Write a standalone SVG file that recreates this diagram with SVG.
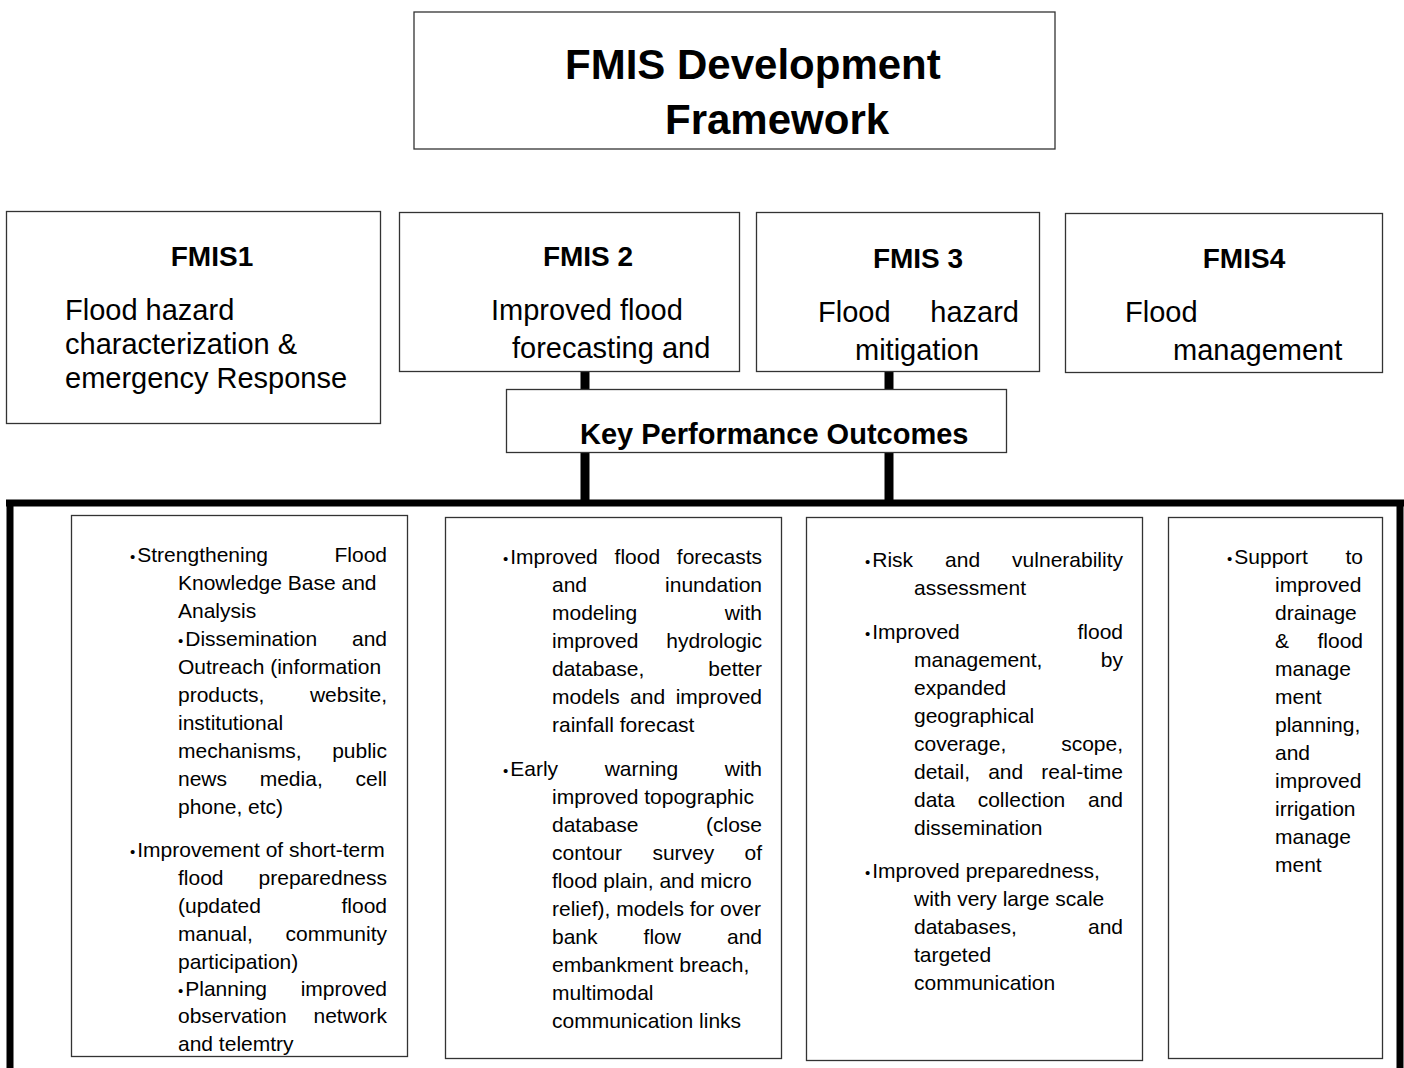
<svg xmlns="http://www.w3.org/2000/svg" width="1404" height="1068" viewBox="0 0 1404 1068">
<style>
.box{fill:#fff;stroke:#333;stroke-width:1.3}
.con{stroke:#000;fill:none}
text{font-family:"Liberation Sans",Arial,sans-serif;fill:#000}
.title{font-size:42px;font-weight:bold}
.hd{font-size:28px;font-weight:bold;text-anchor:middle}
.kpo{font-size:29px;font-weight:bold}
.sub{font-size:29px}
.b{font-size:21px}
.e{text-anchor:end}
.bl{font-size:15px}
</style>
<rect width="1404" height="1068" fill="#fff"/>
<g id="connectors">
<line class="con" x1="585" y1="371" x2="585" y2="390" stroke-width="9"/>
<line class="con" x1="585" y1="452" x2="585" y2="503" stroke-width="9"/>
<line class="con" x1="889" y1="371" x2="889" y2="390" stroke-width="9"/>
<line class="con" x1="889" y1="452" x2="889" y2="503" stroke-width="9"/>
<line class="con" x1="6" y1="503" x2="1404" y2="503" stroke-width="7"/>
<line class="con" x1="10" y1="500" x2="10" y2="1068" stroke-width="7"/>
<line class="con" x1="1400" y1="500" x2="1400" y2="1068" stroke-width="7"/>
</g>
<g id="title">
<rect class="box" x="414" y="12" width="641" height="137"/>
<text class="title" x="565" y="79">FMIS Development</text>
<text class="title" x="665" y="134">Framework</text>
</g>
<g id="fmis1">
<rect class="box" x="6.5" y="211.5" width="374" height="212"/>
<text class="hd" x="212" y="266">FMIS1</text>
<text class="sub" x="65" y="320">Flood hazard</text>
<text class="sub" x="65" y="354">characterization &amp;</text>
<text class="sub" x="65" y="388">emergency Response</text>
</g>
<g id="fmis2">
<rect class="box" x="399.5" y="212.5" width="340" height="159"/>
<text class="hd" x="588" y="266">FMIS 2</text>
<text class="sub" x="491" y="320">Improved flood</text>
<text class="sub" x="512" y="358">forecasting and</text>
</g>
<g id="fmis3">
<rect class="box" x="756.5" y="212.5" width="283" height="159"/>
<text class="hd" x="918" y="268">FMIS 3</text>
<text class="sub" x="818" y="322">Flood</text>
<text class="sub e" x="1019" y="322">hazard</text>
<text class="sub" x="855" y="360">mitigation</text>
</g>
<g id="fmis4">
<rect class="box" x="1065.5" y="213.5" width="317" height="159"/>
<text class="hd" x="1244" y="268">FMIS4</text>
<text class="sub" x="1125" y="322">Flood</text>
<text class="sub" x="1173" y="360">management</text>
</g>
<g id="kpo">
<rect class="box" x="506.5" y="389.5" width="500" height="63"/>
<text class="kpo" x="580" y="444">Key Performance Outcomes</text>
</g>
<g id="outcome1">
<rect class="box" x="71.5" y="515.5" width="336" height="541"/>
<text class="b" x="130" y="562"><tspan class="bl">•</tspan><tspan dx="2">Strengthening</tspan></text><text class="b e" x="387" y="562">Flood</text>
<text class="b" x="178" y="590">Knowledge Base and</text>
<text class="b" x="178" y="618">Analysis</text>
<text class="b" x="178" y="646"><tspan class="bl">•</tspan><tspan dx="2">Dissemination</tspan></text><text class="b e" x="387" y="646">and</text>
<text class="b" x="178" y="674">Outreach (information</text>
<text class="b" x="178" y="702">products,</text><text class="b e" x="387" y="702">website,</text>
<text class="b" x="178" y="730">institutional</text>
<text class="b" x="178" y="758">mechanisms,</text><text class="b e" x="387" y="758">public</text>
<text class="b" x="178" y="786">news</text><text class="b" x="259.7" y="786">media,</text><text class="b e" x="387" y="786">cell</text>
<text class="b" x="178" y="814">phone, etc)</text>
<text class="b" x="130" y="857"><tspan class="bl">•</tspan><tspan dx="2">Improvement of short-term</tspan></text>
<text class="b" x="178" y="885">flood</text><text class="b e" x="387" y="885">preparedness</text>
<text class="b" x="178" y="913">(updated</text><text class="b e" x="387" y="913">flood</text>
<text class="b" x="178" y="941">manual,</text><text class="b e" x="387" y="941">community</text>
<text class="b" x="178" y="969">participation)</text>
<text class="b" x="178" y="996"><tspan class="bl">•</tspan><tspan dx="2">Planning</tspan></text><text class="b e" x="387" y="996">improved</text>
<text class="b" x="178" y="1023">observation</text><text class="b e" x="387" y="1023">network</text>
<text class="b" x="178" y="1051">and telemtry</text>
</g>
<g id="outcome2">
<rect class="box" x="445.5" y="517.5" width="336" height="541"/>
<text class="b" x="503" y="564"><tspan class="bl">•</tspan><tspan dx="2">Improved</tspan></text><text class="b" x="614.6" y="564">flood</text><text class="b e" x="762" y="564">forecasts</text>
<text class="b" x="552" y="592">and</text><text class="b e" x="762" y="592">inundation</text>
<text class="b" x="552" y="620">modeling</text><text class="b e" x="762" y="620">with</text>
<text class="b" x="552" y="648">improved</text><text class="b e" x="762" y="648">hydrologic</text>
<text class="b" x="552" y="676">database,</text><text class="b e" x="762" y="676">better</text>
<text class="b" x="552" y="704">models</text><text class="b" x="630.1" y="704">and</text><text class="b e" x="762" y="704">improved</text>
<text class="b" x="552" y="732">rainfall forecast</text>
<text class="b" x="503" y="776"><tspan class="bl">•</tspan><tspan dx="2">Early</tspan></text><text class="b" x="604.7" y="776">warning</text><text class="b e" x="762" y="776">with</text>
<text class="b" x="552" y="804">improved topographic</text>
<text class="b" x="552" y="832">database</text><text class="b e" x="762" y="832">(close</text>
<text class="b" x="552" y="860">contour</text><text class="b" x="652.4" y="860">survey</text><text class="b e" x="762" y="860">of</text>
<text class="b" x="552" y="888">flood plain, and micro</text>
<text class="b" x="552" y="916">relief), models for over</text>
<text class="b" x="552" y="944">bank</text><text class="b" x="643.6" y="944">flow</text><text class="b e" x="762" y="944">and</text>
<text class="b" x="552" y="972">embankment breach,</text>
<text class="b" x="552" y="1000">multimodal</text>
<text class="b" x="552" y="1028">communication links</text>
</g>
<g id="outcome3">
<rect class="box" x="806.5" y="517.5" width="336" height="543"/>
<text class="b" x="865" y="567"><tspan class="bl">•</tspan><tspan dx="2">Risk</tspan></text><text class="b" x="945.1" y="567">and</text><text class="b e" x="1123" y="567">vulnerability</text>
<text class="b" x="914" y="595">assessment</text>
<text class="b" x="865" y="639"><tspan class="bl">•</tspan><tspan dx="2">Improved</tspan></text><text class="b e" x="1123" y="639">flood</text>
<text class="b" x="914" y="667">management,</text><text class="b e" x="1123" y="667">by</text>
<text class="b" x="914" y="695">expanded</text>
<text class="b" x="914" y="723">geographical</text>
<text class="b" x="914" y="751">coverage,</text><text class="b e" x="1123" y="751">scope,</text>
<text class="b" x="914" y="779">detail,</text><text class="b" x="988.2" y="779">and</text><text class="b e" x="1123" y="779">real-time</text>
<text class="b" x="914" y="807">data</text><text class="b" x="977.7" y="807">collection</text><text class="b e" x="1123" y="807">and</text>
<text class="b" x="914" y="835">dissemination</text>
<text class="b" x="865" y="878"><tspan class="bl">•</tspan><tspan dx="2">Improved preparedness,</tspan></text>
<text class="b" x="914" y="906">with very large scale</text>
<text class="b" x="914" y="934">databases,</text><text class="b e" x="1123" y="934">and</text>
<text class="b" x="914" y="962">targeted</text>
<text class="b" x="914" y="990">communication</text>
</g>
<g id="outcome4">
<rect class="box" x="1168.5" y="517.5" width="214" height="541"/>
<text class="b" x="1227" y="564"><tspan class="bl">•</tspan><tspan dx="2">Support</tspan></text><text class="b e" x="1363" y="564">to</text>
<text class="b" x="1275" y="592">improved</text>
<text class="b" x="1275" y="620">drainage</text>
<text class="b" x="1275" y="648">&amp;</text><text class="b e" x="1363" y="648">flood</text>
<text class="b" x="1275" y="676">manage</text>
<text class="b" x="1275" y="704">ment</text>
<text class="b" x="1275" y="732">planning,</text>
<text class="b" x="1275" y="760">and</text>
<text class="b" x="1275" y="788">improved</text>
<text class="b" x="1275" y="816">irrigation</text>
<text class="b" x="1275" y="844">manage</text>
<text class="b" x="1275" y="872">ment</text>
</g>
</svg>
